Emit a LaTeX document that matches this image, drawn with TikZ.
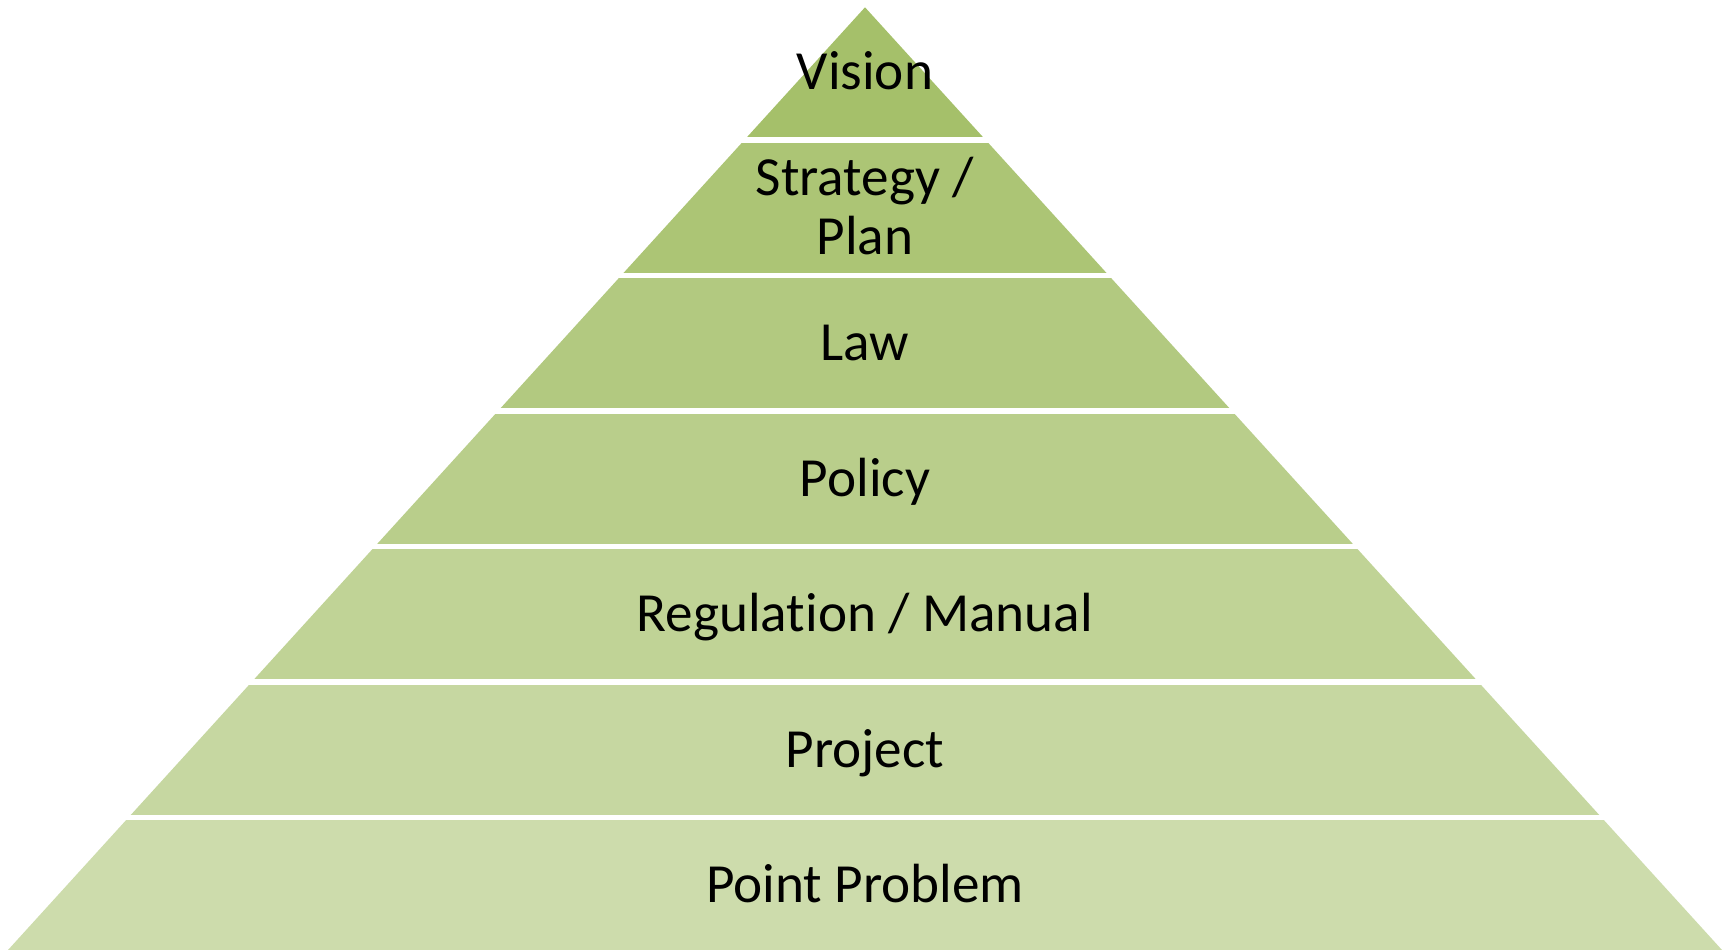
\documentclass[tikz,border=0pt]{standalone}
\usepackage{fontspec}
\setmainfont{Carlito}[Ligatures=NoCommon]

\definecolor{level1}{HTML}{A5C06A}
\definecolor{level2}{HTML}{ACC575}
\definecolor{level3}{HTML}{B2C980}
\definecolor{level4}{HTML}{B9CE8B}
\definecolor{level5}{HTML}{C0D396}
\definecolor{level6}{HTML}{C6D7A1}
\definecolor{level7}{HTML}{CDDCAC}

\begin{document}
\begin{tikzpicture}[x=0.5pt,y=-0.5pt,font=\fontsize{27.6}{29.5}\selectfont]
\useasboundingbox (0,0) rectangle (1729,950);

% Pyramid bands
\begin{scope}
\clip (865,7.3) -- (1722,950) -- (8,950) -- cycle;
\fill[level1] (0,0) rectangle (1729,137.1);
\fill[level2] (0,142.8) rectangle (1729,272.6);
\fill[level3] (0,278.3) rectangle (1729,408.1);
\fill[level4] (0,413.8) rectangle (1729,543.6);
\fill[level5] (0,549.3) rectangle (1729,679.1);
\fill[level6] (0,684.8) rectangle (1729,814.6);
\fill[level7] (0,820.3) rectangle (1729,950);
\end{scope}

% Labels
\node[anchor=base] (vision) at (865,89.9) {Vision};
\node[anchor=base,align=center] (strategy) at (865,254) {Strategy /\\Plan};
\node[anchor=base] (law) at (865,360.9) {Law};
\node[anchor=base] (policy) at (865,496.4) {Policy};
\node[anchor=base] (regulation) at (865,631.9) {Regulation / Manual};
\node[anchor=base] (project) at (865,767.4) {Project};
\node[anchor=base] (point) at (865,902.9) {Point Problem};

\end{tikzpicture}
\end{document}
